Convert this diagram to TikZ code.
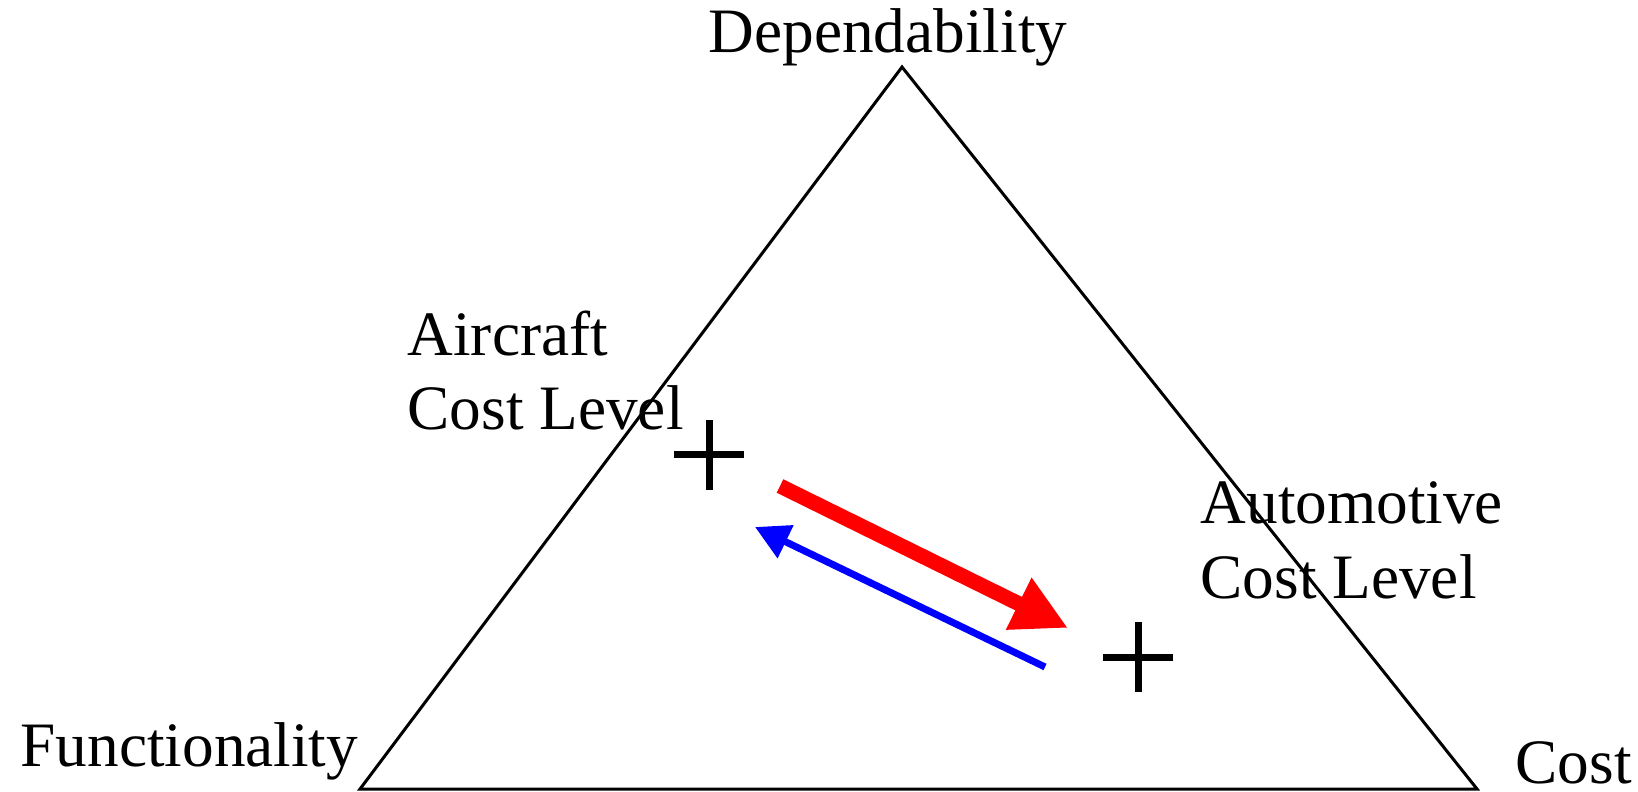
\documentclass[tikz,border=0pt]{standalone}
\usepackage{fontspec}
\setmainfont{Liberation Serif}
\usetikzlibrary{arrows.meta,positioning}
\tikzset{
  corner/.style={inner sep=0pt, font=\fontsize{18}{21.3}\selectfont},
  costlevel/.style={corner, align=left},
  side/.style={line width=0.03cm, line join=miter},
  plusmark/.style={line width=0.07cm},
  push/.style={red, line width=0.15cm, -{Triangle[length=0.55cm,width=0.54cm]}},
  pull/.style={blue, line width=0.07cm, -{Triangle[length=0.34cm,width=0.35cm]}},
}
\begin{document}
\begin{tikzpicture}
  \useasboundingbox (0,0) rectangle (16.38,7.91);
  % triangle corners
  \coordinate (top) at (9.02,7.24);
  \coordinate (left) at (3.60,0.02);
  \coordinate (right) at (14.77,0.02);
  \draw[side] (left) -- (top) -- (right) -- cycle;
  \node[corner,anchor=base] (dep) at (8.88,7.38) {Dependability};
  \node[corner,anchor=base west] (func) at (0.20,0.25) {Functionality};
  \node[corner,anchor=base west] (cost) at (15.15,0.08) {Cost};
  % cost levels
  \coordinate (aircraft) at (7.09,3.36);
  \coordinate (auto) at (11.38,1.34);
  \draw[plusmark] (aircraft) +(-0.35,0) -- +(0.35,0) (aircraft) +(0,-0.35) -- +(0,0.35);
  \draw[plusmark] (auto) +(-0.35,0) -- +(0.35,0) (auto) +(0,-0.35) -- +(0,0.35);
  \node[costlevel,anchor=base west] (airlabel) at (4.07,3.61) {Aircraft\\Cost Level};
  \node[costlevel,anchor=base west] (autolabel) at (12.00,1.93) {Automotive\\Cost Level};
  % arrows
  \coordinate (pushfrom) at (7.80,3.05);
  \coordinate (pushto) at (10.68,1.63);
  \coordinate (pullfrom) at (10.45,1.24);
  \coordinate (pullto) at (7.55,2.64);
  \draw[push] (pushfrom) -- (pushto);
  \draw[pull] (pullfrom) -- (pullto);
\end{tikzpicture}
\end{document}
